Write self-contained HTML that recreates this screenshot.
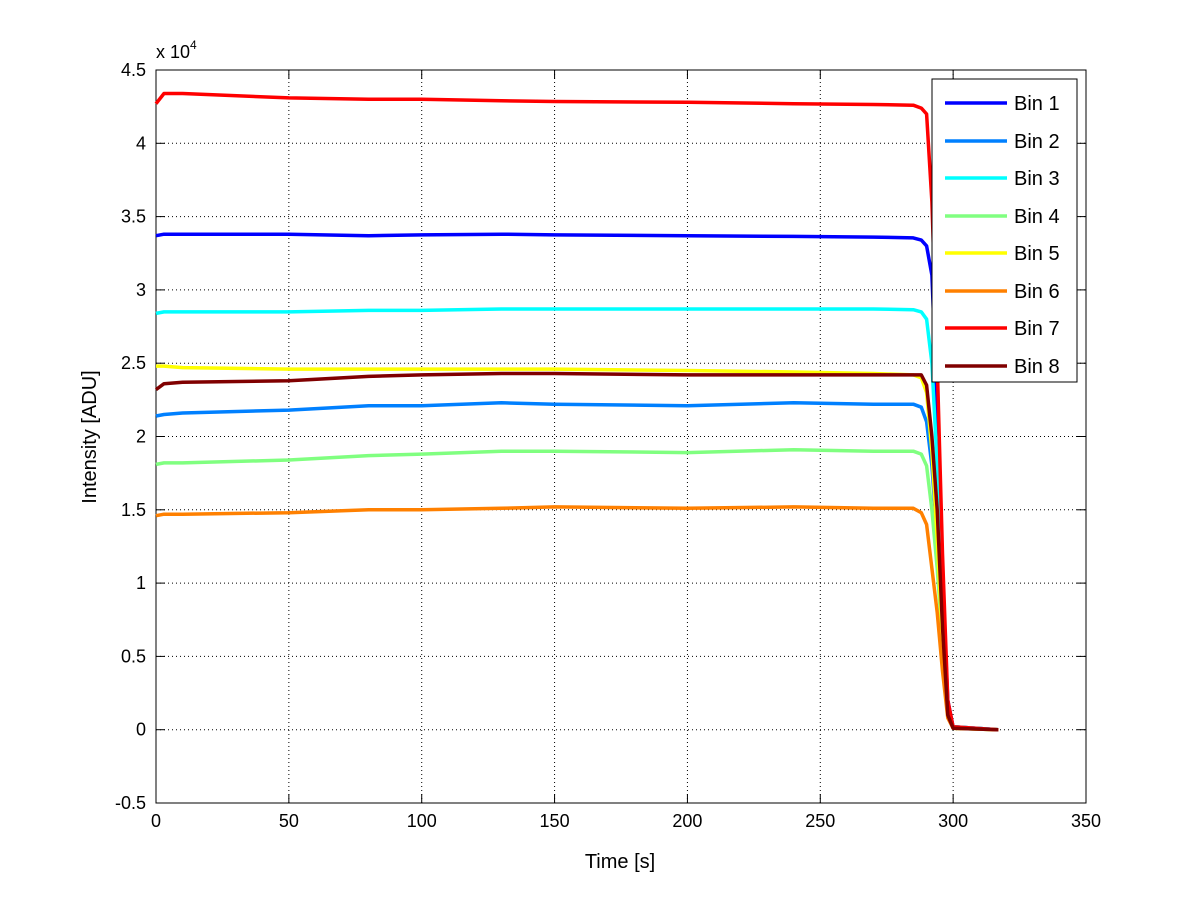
<!DOCTYPE html>
<html><head><meta charset="utf-8"><style>
body{margin:0;background:#fff}
svg text{font-family:"Liberation Sans",sans-serif;fill:#000}
</style></head><body>
<svg id="chart" width="1200" height="901"></svg>
<script>
const times=[0,3,10,50,80,100,130,150,200,240,270,285,288,290,292,294,296,298,300,317];
const seriesNames=["Bin 1","Bin 2","Bin 3","Bin 4","Bin 5","Bin 6","Bin 7","Bin 8"];
const bin1=[3.37,3.38,3.38,3.38,3.37,3.375,3.38,3.375,3.37,3.365,3.36,3.355,3.34,3.3,3.1,2.2,1.0,0.2,0.02,0];
const bin2=[2.14,2.15,2.16,2.18,2.21,2.21,2.23,2.22,2.21,2.23,2.22,2.22,2.2,2.1,1.8,1.3,0.7,0.15,0.02,0];
const bin3=[2.84,2.85,2.85,2.85,2.86,2.86,2.87,2.87,2.87,2.87,2.87,2.865,2.85,2.8,2.5,1.8,0.9,0.15,0.02,0];
const bin4=[1.81,1.82,1.82,1.84,1.87,1.88,1.90,1.90,1.89,1.91,1.90,1.90,1.88,1.8,1.5,1.1,0.6,0.1,0.01,0];
const bin5=[2.48,2.48,2.47,2.46,2.46,2.46,2.46,2.46,2.45,2.44,2.43,2.42,2.4,2.3,1.9,1.3,0.6,0.1,0.01,0];
const bin6=[1.46,1.47,1.47,1.48,1.50,1.50,1.51,1.52,1.51,1.52,1.51,1.51,1.48,1.4,1.1,0.8,0.4,0.08,0.01,0];
const bin7=[4.27,4.34,4.34,4.31,4.30,4.30,4.29,4.285,4.28,4.27,4.265,4.26,4.24,4.2,3.6,2.5,1.2,0.2,0.02,0];
const bin8=[2.32,2.36,2.37,2.38,2.41,2.42,2.43,2.43,2.42,2.42,2.42,2.42,2.42,2.35,2.0,1.5,0.7,0.1,0.01,0];
const xTicks=[0,50,100,150,200,250,300,350];
const yTicks=[-0.5,0,0.5,1,1.5,2,2.5,3,3.5,4,4.5];
const yTickLabels=["-0.5","0","0.5","1","1.5","2","2.5","3","3.5","4","4.5"];
const colors=["#0000ff","#0080ff","#00ffff","#80ff80","#ffff00","#ff8000","#ff0000","#800000"];
const allSeries=[bin1,bin2,bin3,bin4,bin5,bin6,bin7,bin8];

const L=156,R=1086,T=70,B=803;
const X=v=>L+(v-0)/350*(R-L);
const Y=v=>B-(v+0.5)/5*(B-T);
const svg=document.getElementById('chart');
const NS="http://www.w3.org/2000/svg";
function mk(tag,attrs,parent){const e=document.createElementNS(NS,tag);for(const k in attrs)e.setAttribute(k,attrs[k]);(parent||svg).appendChild(e);return e;}

xTicks.forEach(t=>{if(t>0&&t<350){const g=mk('line',{x1:X(t),x2:X(t),y1:T,y2:B,stroke:'#000','stroke-width':1,'stroke-dasharray':'1,3'});

}});
yTicks.forEach(t=>{if(t>-0.5&&t<4.5){const g=mk('line',{x1:L,x2:R,y1:Y(t),y2:Y(t),stroke:'#000','stroke-width':1,'stroke-dasharray':'1,3'});

}});
const box=mk('rect',{x:L,y:T,width:R-L,height:B-T,fill:'none',stroke:'#000','stroke-width':1});


xTicks.forEach(t=>{
mk('line',{x1:X(t),x2:X(t),y1:B,y2:B-9,stroke:'#000'});mk('line',{x1:X(t),x2:X(t),y1:T,y2:T+9,stroke:'#000'});
const tx=mk('text',{x:X(t),y:B+24,'text-anchor':'middle','font-size':18});tx.textContent=t;

});
yTicks.forEach((t,i)=>{
mk('line',{x1:L,x2:L+9,y1:Y(t),y2:Y(t),stroke:'#000'});mk('line',{x1:R,x2:R-9,y1:Y(t),y2:Y(t),stroke:'#000'});
const tx=mk('text',{x:L-10,y:Y(t)+6,'text-anchor':'end','font-size':18});tx.textContent=yTickLabels[i];

});
allSeries.forEach((s,i)=>{
const d=s.map((v,j)=>(j?'L':'M')+X(times[j]).toFixed(1)+','+Y(v).toFixed(1)).join(' ');
const p=mk('path',{d:d,fill:'none',stroke:colors[i],'stroke-width':3.5,'stroke-linejoin':'round'});

});
</script>
<svg width="1200" height="901" style="position:absolute;left:0;top:0">
<text x="156" y="58" font-size="18">x 10<tspan font-size="12" dy="-9">4</tspan></text>
<text x="620" y="868" font-size="20" text-anchor="middle">Time [s]</text>
<text transform="translate(96,437) rotate(-90)" font-size="20" text-anchor="middle">Intensity [ADU]</text>
<g>
<rect x="932" y="79" width="145" height="303" fill="#fff" stroke="#000" stroke-width="1"/>
<g font-size="20">
<line x1="945" y1="103" x2="1007" y2="103" stroke="#0000ff" stroke-width="3.5"/><text x="1014" y="110">Bin 1</text>
<line x1="945" y1="141" x2="1007" y2="141" stroke="#0080ff" stroke-width="3.5"/><text x="1014" y="148">Bin 2</text>
<line x1="945" y1="178" x2="1007" y2="178" stroke="#00ffff" stroke-width="3.5"/><text x="1014" y="185">Bin 3</text>
<line x1="945" y1="216" x2="1007" y2="216" stroke="#80ff80" stroke-width="3.5"/><text x="1014" y="223">Bin 4</text>
<line x1="945" y1="253" x2="1007" y2="253" stroke="#ffff00" stroke-width="3.5"/><text x="1014" y="260">Bin 5</text>
<line x1="945" y1="291" x2="1007" y2="291" stroke="#ff8000" stroke-width="3.5"/><text x="1014" y="298">Bin 6</text>
<line x1="945" y1="328" x2="1007" y2="328" stroke="#ff0000" stroke-width="3.5"/><text x="1014" y="335">Bin 7</text>
<line x1="945" y1="366" x2="1007" y2="366" stroke="#800000" stroke-width="3.5"/><text x="1014" y="373">Bin 8</text>
</g></g>
</svg>
</body></html>
